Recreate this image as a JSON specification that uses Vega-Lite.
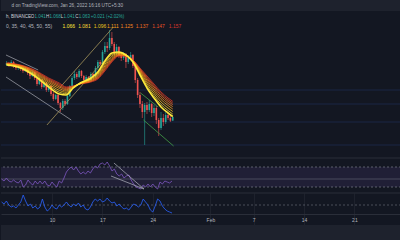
{
"$schema": "https://vega.github.io/schema/vega-lite/v6.json",
"background": "#131722",
"padding": 0,
"spacing": 0,
"config": {"view": {"stroke": null}, "concat": {"spacing": 0}},
"datasets": {
"bars": [
{"t":"2022-01-03T00:00:00","o":1.375,"h":1.399,"l":1.369,"c":1.387,"r":46,"v":24},
{"t":"2022-01-03T08:00:00","o":1.387,"h":1.393,"l":1.363,"c":1.375,"r":42,"v":20},
{"t":"2022-01-03T16:00:00","o":1.375,"h":1.405,"l":1.369,"c":1.393,"r":48,"v":26},
{"t":"2022-01-04T00:00:00","o":1.393,"h":1.399,"l":1.357,"c":1.369,"r":42,"v":18},
{"t":"2022-01-04T08:00:00","o":1.369,"h":1.381,"l":1.345,"c":1.357,"r":40,"v":14},
{"t":"2022-01-04T16:00:00","o":1.357,"h":1.375,"l":1.345,"c":1.369,"r":44,"v":16},
{"t":"2022-01-05T00:00:00","o":1.369,"h":1.375,"l":1.339,"c":1.351,"r":40,"v":12},
{"t":"2022-01-05T08:00:00","o":1.351,"h":1.363,"l":1.327,"c":1.339,"r":38,"v":18},
{"t":"2022-01-05T16:00:00","o":1.339,"h":1.363,"l":1.333,"c":1.357,"r":44,"v":24},
{"t":"2022-01-06T00:00:00","o":1.357,"h":1.363,"l":1.315,"c":1.327,"r":30,"v":38},
{"t":"2022-01-06T08:00:00","o":1.327,"h":1.333,"l":1.291,"c":1.309,"r":34,"v":26},
{"t":"2022-01-06T16:00:00","o":1.309,"h":1.345,"l":1.303,"c":1.333,"r":44,"v":16},
{"t":"2022-01-07T00:00:00","o":1.333,"h":1.339,"l":1.285,"c":1.297,"r":38,"v":20},
{"t":"2022-01-07T08:00:00","o":1.297,"h":1.303,"l":1.249,"c":1.261,"r":34,"v":12},
{"t":"2022-01-07T16:00:00","o":1.261,"h":1.297,"l":1.255,"c":1.285,"r":42,"v":16},
{"t":"2022-01-08T00:00:00","o":1.285,"h":1.291,"l":1.231,"c":1.243,"r":36,"v":10},
{"t":"2022-01-08T08:00:00","o":1.243,"h":1.273,"l":1.237,"c":1.267,"r":42,"v":14},
{"t":"2022-01-08T16:00:00","o":1.267,"h":1.273,"l":1.213,"c":1.225,"r":36,"v":30},
{"t":"2022-01-09T00:00:00","o":1.225,"h":1.255,"l":1.213,"c":1.249,"r":42,"v":14},
{"t":"2022-01-09T08:00:00","o":1.249,"h":1.255,"l":1.189,"c":1.201,"r":34,"v":6},
{"t":"2022-01-09T16:00:00","o":1.201,"h":1.213,"l":1.159,"c":1.171,"r":32,"v":10},
{"t":"2022-01-10T00:00:00","o":1.171,"h":1.201,"l":1.165,"c":1.195,"r":40,"v":18},
{"t":"2022-01-10T08:00:00","o":1.195,"h":1.201,"l":1.135,"c":1.147,"r":34,"v":12},
{"t":"2022-01-10T16:00:00","o":1.147,"h":1.153,"l":1.093,"c":1.117,"r":30,"v":10},
{"t":"2022-01-11T00:00:00","o":1.117,"h":1.171,"l":1.105,"c":1.159,"r":42,"v":18},
{"t":"2022-01-11T08:00:00","o":1.159,"h":1.171,"l":1.129,"c":1.141,"r":38,"v":14},
{"t":"2022-01-11T16:00:00","o":1.141,"h":1.195,"l":1.135,"c":1.189,"r":48,"v":18},
{"t":"2022-01-12T00:00:00","o":1.189,"h":1.255,"l":1.183,"c":1.249,"r":60,"v":24},
{"t":"2022-01-12T08:00:00","o":1.249,"h":1.309,"l":1.237,"c":1.297,"r":66,"v":18},
{"t":"2022-01-12T16:00:00","o":1.297,"h":1.339,"l":1.285,"c":1.321,"r":70,"v":14},
{"t":"2022-01-13T00:00:00","o":1.321,"h":1.333,"l":1.291,"c":1.303,"r":64,"v":20},
{"t":"2022-01-13T08:00:00","o":1.303,"h":1.351,"l":1.297,"c":1.339,"r":70,"v":16},
{"t":"2022-01-13T16:00:00","o":1.339,"h":1.345,"l":1.297,"c":1.309,"r":62,"v":22},
{"t":"2022-01-14T00:00:00","o":1.309,"h":1.315,"l":1.267,"c":1.285,"r":56,"v":14},
{"t":"2022-01-14T08:00:00","o":1.285,"h":1.315,"l":1.273,"c":1.303,"r":60,"v":18},
{"t":"2022-01-14T16:00:00","o":1.303,"h":1.309,"l":1.267,"c":1.285,"r":56,"v":10},
{"t":"2022-01-15T00:00:00","o":1.285,"h":1.333,"l":1.273,"c":1.321,"r":62,"v":8},
{"t":"2022-01-15T08:00:00","o":1.321,"h":1.327,"l":1.297,"c":1.309,"r":58,"v":14},
{"t":"2022-01-15T16:00:00","o":1.309,"h":1.369,"l":1.303,"c":1.357,"r":66,"v":24},
{"t":"2022-01-16T00:00:00","o":1.357,"h":1.405,"l":1.345,"c":1.393,"r":72,"v":30},
{"t":"2022-01-16T08:00:00","o":1.393,"h":1.405,"l":1.363,"c":1.381,"r":68,"v":26},
{"t":"2022-01-16T16:00:00","o":1.381,"h":1.465,"l":1.375,"c":1.453,"r":76,"v":30},
{"t":"2022-01-17T00:00:00","o":1.453,"h":1.513,"l":1.441,"c":1.489,"r":78,"v":24},
{"t":"2022-01-17T08:00:00","o":1.489,"h":1.513,"l":1.453,"c":1.477,"r":74,"v":26},
{"t":"2022-01-17T16:00:00","o":1.477,"h":1.585,"l":1.465,"c":1.537,"r":80,"v":32},
{"t":"2022-01-18T00:00:00","o":1.537,"h":1.573,"l":1.489,"c":1.501,"r":72,"v":26},
{"t":"2022-01-18T08:00:00","o":1.501,"h":1.513,"l":1.435,"c":1.453,"r":62,"v":22},
{"t":"2022-01-18T16:00:00","o":1.453,"h":1.501,"l":1.441,"c":1.483,"r":66,"v":24},
{"t":"2022-01-19T00:00:00","o":1.483,"h":1.489,"l":1.417,"c":1.435,"r":56,"v":16},
{"t":"2022-01-19T08:00:00","o":1.435,"h":1.453,"l":1.399,"c":1.417,"r":52,"v":20},
{"t":"2022-01-19T16:00:00","o":1.417,"h":1.453,"l":1.405,"c":1.441,"r":56,"v":14},
{"t":"2022-01-20T00:00:00","o":1.441,"h":1.447,"l":1.357,"c":1.393,"r":48,"v":10},
{"t":"2022-01-20T08:00:00","o":1.393,"h":1.435,"l":1.381,"c":1.417,"r":52,"v":12},
{"t":"2022-01-20T16:00:00","o":1.417,"h":1.453,"l":1.405,"c":1.435,"r":54,"v":8},
{"t":"2022-01-21T00:00:00","o":1.435,"h":1.441,"l":1.357,"c":1.369,"r":44,"v":14},
{"t":"2022-01-21T08:00:00","o":1.369,"h":1.375,"l":1.267,"c":1.285,"r":36,"v":20},
{"t":"2022-01-21T16:00:00","o":1.285,"h":1.297,"l":1.177,"c":1.195,"r":30,"v":18},
{"t":"2022-01-22T00:00:00","o":1.195,"h":1.213,"l":1.117,"c":1.141,"r":28,"v":14},
{"t":"2022-01-22T08:00:00","o":1.141,"h":1.159,"l":1.057,"c":1.093,"r":26,"v":18},
{"t":"2022-01-22T16:00:00","o":1.093,"h":1.147,"l":0.895,"c":1.135,"r":34,"v":30},
{"t":"2022-01-23T00:00:00","o":1.135,"h":1.153,"l":1.081,"c":1.105,"r":30,"v":24},
{"t":"2022-01-23T08:00:00","o":1.105,"h":1.165,"l":1.093,"c":1.141,"r":36,"v":18},
{"t":"2022-01-23T16:00:00","o":1.141,"h":1.147,"l":1.063,"c":1.087,"r":30,"v":8},
{"t":"2022-01-24T00:00:00","o":1.087,"h":1.135,"l":1.069,"c":1.117,"r":36,"v":4},
{"t":"2022-01-24T08:00:00","o":1.117,"h":1.129,"l":1.021,"c":1.045,"r":30,"v":16},
{"t":"2022-01-24T16:00:00","o":1.045,"h":1.057,"l":0.949,"c":0.997,"r":26,"v":30},
{"t":"2022-01-25T00:00:00","o":0.997,"h":1.093,"l":0.985,"c":1.057,"r":40,"v":26},
{"t":"2022-01-25T08:00:00","o":1.057,"h":1.081,"l":1.009,"c":1.033,"r":36,"v":16},
{"t":"2022-01-25T16:00:00","o":1.033,"h":1.093,"l":1.021,"c":1.075,"r":42,"v":10},
{"t":"2022-01-26T00:00:00","o":1.075,"h":1.087,"l":1.045,"c":1.057,"r":40,"v":6},
{"t":"2022-01-26T08:00:00","o":1.057,"h":1.069,"l":1.033,"c":1.041,"r":38,"v":4},
{"t":"2022-01-26T16:00:00","o":1.041,"h":1.068,"l":1.041,"c":1.063,"r":42,"v":2}
],
"ema": [
{"t":"2022-01-03T00:00:00","e20":1.375,"e25":1.377,"e30":1.379,"e35":1.381,"e40":1.383,"e45":1.384,"e50":1.386,"e55":1.387},
{"t":"2022-01-05T00:00:00","e20":1.357,"e25":1.360,"e30":1.363,"e35":1.366,"e40":1.369,"e45":1.371,"e50":1.373,"e55":1.375},
{"t":"2022-01-07T00:00:00","e20":1.309,"e25":1.315,"e30":1.321,"e35":1.327,"e40":1.332,"e45":1.337,"e50":1.341,"e55":1.345},
{"t":"2022-01-09T00:00:00","e20":1.243,"e25":1.252,"e30":1.261,"e35":1.270,"e40":1.278,"e45":1.285,"e50":1.291,"e55":1.297},
{"t":"2022-01-10T12:00:00","e20":1.201,"e25":1.212,"e30":1.223,"e35":1.234,"e40":1.244,"e45":1.252,"e50":1.260,"e55":1.267},
{"t":"2022-01-11T12:00:00","e20":1.195,"e25":1.203,"e30":1.211,"e35":1.219,"e40":1.226,"e45":1.232,"e50":1.238,"e55":1.243},
{"t":"2022-01-12T12:00:00","e20":1.237,"e25":1.239,"e30":1.241,"e35":1.243,"e40":1.245,"e45":1.246,"e50":1.248,"e55":1.249},
{"t":"2022-01-13T12:00:00","e20":1.267,"e25":1.266,"e30":1.265,"e35":1.264,"e40":1.263,"e45":1.262,"e50":1.262,"e55":1.261},
{"t":"2022-01-15T00:00:00","e20":1.297,"e25":1.293,"e30":1.289,"e35":1.285,"e40":1.281,"e45":1.278,"e50":1.276,"e55":1.273},
{"t":"2022-01-16T00:00:00","e20":1.333,"e25":1.326,"e30":1.319,"e35":1.312,"e40":1.306,"e45":1.300,"e50":1.296,"e55":1.291},
{"t":"2022-01-17T00:00:00","e20":1.399,"e25":1.389,"e30":1.379,"e35":1.369,"e40":1.360,"e45":1.352,"e50":1.346,"e55":1.339},
{"t":"2022-01-18T00:00:00","e20":1.447,"e25":1.438,"e30":1.429,"e35":1.420,"e40":1.412,"e45":1.405,"e50":1.399,"e55":1.393},
{"t":"2022-01-19T00:00:00","e20":1.453,"e25":1.449,"e30":1.445,"e35":1.441,"e40":1.437,"e45":1.434,"e50":1.432,"e55":1.429},
{"t":"2022-01-20T00:00:00","e20":1.435,"e25":1.434,"e30":1.433,"e35":1.432,"e40":1.431,"e45":1.430,"e50":1.430,"e55":1.429},
{"t":"2022-01-21T00:00:00","e20":1.393,"e25":1.395,"e30":1.397,"e35":1.399,"e40":1.401,"e45":1.402,"e50":1.404,"e55":1.405},
{"t":"2022-01-22T00:00:00","e20":1.315,"e25":1.322,"e30":1.329,"e35":1.336,"e40":1.342,"e45":1.348,"e50":1.352,"e55":1.357},
{"t":"2022-01-23T00:00:00","e20":1.237,"e25":1.249,"e30":1.261,"e35":1.273,"e40":1.284,"e45":1.293,"e50":1.301,"e55":1.309},
{"t":"2022-01-24T00:00:00","e20":1.177,"e25":1.191,"e30":1.205,"e35":1.219,"e40":1.231,"e45":1.243,"e50":1.252,"e55":1.261},
{"t":"2022-01-25T00:00:00","e20":1.123,"e25":1.138,"e30":1.153,"e35":1.168,"e40":1.181,"e45":1.193,"e50":1.203,"e55":1.213},
{"t":"2022-01-26T00:00:00","e20":1.087,"e25":1.102,"e30":1.117,"e35":1.132,"e40":1.145,"e45":1.157,"e50":1.167,"e55":1.177},
{"t":"2022-01-26T16:00:00","e20":1.066,"e25":1.081,"e30":1.096,"e35":1.111,"e40":1.125,"e45":1.137,"e50":1.147,"e55":1.157}
],
"trend": [
{"id":"g1","t":"2022-01-02T22:00:00","p":1.435},{"id":"g1","t":"2022-01-07T12:00:00","p":1.345},
{"id":"g2","t":"2022-01-02T22:00:00","p":1.303},{"id":"g2","t":"2022-01-12T05:00:00","p":1.045},
{"id":"k1","t":"2022-01-08T18:00:00","p":1.015},{"id":"k1","t":"2022-01-16T19:00:00","p":1.399},
{"id":"k2","t":"2022-01-10T13:00:00","p":1.237},{"id":"k2","t":"2022-01-18T05:00:00","p":1.603},
{"id":"n1","t":"2022-01-22T02:00:00","p":1.207},{"id":"n1","t":"2022-01-24T14:00:00","p":1.123},
{"id":"n2","t":"2022-01-22T12:00:00","p":1.045},{"id":"n2","t":"2022-01-26T19:00:00","p":0.889}
],
"levels": [{"p":1.225},{"p":1.141},{"p":1.033},{"p":0.895}],
"wedge": [
{"id":"w1","t":"2022-01-18T14:30:00","r":78},{"id":"w1","t":"2022-01-22T18:40:00","r":26},
{"id":"w2","t":"2022-01-18T04:40:00","r":52},{"id":"w2","t":"2022-01-22T18:40:00","r":26}
]
},
"vconcat": [
{
"width": 400, "height": 11,
"view": {"fill": "#1e222d", "stroke": null},
"data": {"values": [{}]},
"mark": {"type": "text", "align": "left", "baseline": "middle", "font": "Liberation Sans", "fontSize": 4.7, "color": "#b2b5be", "text": "d on TradingView.com, Jan 26, 2022 16:16 UTC+5:30"},
"encoding": {"x": {"datum": {"year": 2022, "month": 1, "date": 4, "hours": 9}, "type": "temporal", "scale": {"domain": [{"year":2022,"month":1,"date":2,"hours":22},{"year":2022,"month":2,"date":27,"hours":11,"minutes":20}], "nice": false}, "axis": null}}
},
{
"width": 400, "height": 146,
"resolve": {"scale": {"color": "independent"}},
"layer": [
{"data": {"name": "levels"}, "mark": {"type": "rule", "color": "#1a2745", "strokeWidth": 1},
 "encoding": {"y": {"field": "p", "type": "quantitative", "scale": {"domain": [0.823, 1.699], "nice": false, "zero": false}, "axis": null}}},
{"data": {"name": "bars"}, "mark": {"type": "rule", "strokeWidth": 0.6},
 "encoding": {
  "x": {"field": "t", "type": "temporal", "scale": {"domain": [{"year":2022,"month":1,"date":2,"hours":22},{"year":2022,"month":2,"date":27,"hours":11,"minutes":20}], "nice": false},
        "axis": {"values": [{"year":2022,"month":1,"date":10},{"year":2022,"month":1,"date":17},{"year":2022,"month":1,"date":24},{"year":2022,"month":2,"date":1},{"year":2022,"month":2,"date":7},{"year":2022,"month":2,"date":14},{"year":2022,"month":2,"date":21}], "grid": true, "gridColor": "#1e222d", "labels": false, "ticks": false, "domain": false, "title": null}},
  "y": {"field": "l", "type": "quantitative", "scale": {"domain": [0.823, 1.699], "nice": false, "zero": false}, "axis": null},
  "y2": {"field": "h"},
  "color": {"condition": {"test": "datum.c >= datum.o", "value": "#26a69a"}, "value": "#ef5350"}}},
{"data": {"name": "bars"}, "mark": {"type": "bar", "width": 1.6},
 "encoding": {
  "x": {"field": "t", "type": "temporal", "scale": {"domain": [{"year":2022,"month":1,"date":2,"hours":22},{"year":2022,"month":2,"date":27,"hours":11,"minutes":20}], "nice": false}, "axis": null},
  "y": {"field": "o", "type": "quantitative", "scale": {"domain": [0.823, 1.699], "nice": false, "zero": false}, "axis": null},
  "y2": {"field": "c"},
  "color": {"condition": {"test": "datum.c >= datum.o", "value": "#26a69a"}, "value": "#ef5350"}}},
{"data": {"name": "trend"}, "mark": {"type": "line", "strokeWidth": 0.8},
 "encoding": {
  "x": {"field": "t", "type": "temporal", "scale": {"domain": [{"year":2022,"month":1,"date":2,"hours":22},{"year":2022,"month":2,"date":27,"hours":11,"minutes":20}], "nice": false}, "axis": null},
  "y": {"field": "p", "type": "quantitative", "scale": {"domain": [0.823, 1.699], "nice": false, "zero": false}, "axis": null},
  "detail": {"field": "id"},
  "color": {"field": "id", "type": "nominal", "scale": {"domain": ["g1","g2","k1","k2","n1","n2"], "range": ["#9598a1","#9598a1","#a3935a","#a3935a","#43a047","#43a047"]}, "legend": null}}},
{"data": {"name": "ema"}, "transform": [{"fold": ["e55","e50","e45","e40","e35","e30","e25"], "as": ["k","v"]}],
 "mark": {"type": "line", "strokeWidth": 0.8, "interpolate": "monotone"},
 "encoding": {
  "x": {"field": "t", "type": "temporal", "scale": {"domain": [{"year":2022,"month":1,"date":2,"hours":22},{"year":2022,"month":2,"date":27,"hours":11,"minutes":20}], "nice": false}, "axis": null},
  "y": {"field": "v", "type": "quantitative", "scale": {"domain": [0.823, 1.699], "nice": false, "zero": false}, "axis": null},
  "color": {"field": "k", "type": "nominal", "scale": {"domain": ["e25","e30","e35","e40","e45","e50","e55"], "range": ["#fdd835","#f9c01e","#f7a21b","#f4861f","#ef6c1f","#e65124","#d8352a"]}, "legend": null}}},
{"data": {"name": "ema"}, "mark": {"type": "line", "strokeWidth": 1.6, "color": "#ffeb3b", "interpolate": "monotone"},
 "encoding": {
  "x": {"field": "t", "type": "temporal", "scale": {"domain": [{"year":2022,"month":1,"date":2,"hours":22},{"year":2022,"month":2,"date":27,"hours":11,"minutes":20}], "nice": false}, "axis": null},
  "y": {"field": "e20", "type": "quantitative", "scale": {"domain": [0.823, 1.699], "nice": false, "zero": false}, "axis": null}}},
{"data": {"values": [{}]},
 "encoding": {"y": {"datum": 1.666, "type": "quantitative", "scale": {"domain": [0.823, 1.699], "nice": false, "zero": false}, "axis": null}},
 "layer": [
  {"mark": {"type": "text", "align": "left", "baseline": "middle", "font": "Liberation Sans", "fontSize": 4.5, "color": "#d1d4dc", "text": "h, BINANCE"},
   "encoding": {"x": {"datum": {"year":2022,"month":1,"date":2,"hours":22}, "type": "temporal", "scale": {"domain": [{"year":2022,"month":1,"date":2,"hours":22},{"year":2022,"month":2,"date":27,"hours":11,"minutes":20}], "nice": false}, "axis": null}}},
  {"mark": {"type": "text", "align": "left", "baseline": "middle", "font": "Liberation Sans", "fontSize": 4.5, "color": "#d1d4dc", "text": "O"},
   "encoding": {"x": {"datum": {"year":2022,"month":1,"date":6,"hours":11}, "type": "temporal", "scale": {"domain": [{"year":2022,"month":1,"date":2,"hours":22},{"year":2022,"month":2,"date":27,"hours":11,"minutes":20}], "nice": false}, "axis": null}}},
  {"mark": {"type": "text", "align": "left", "baseline": "middle", "font": "Liberation Sans", "fontSize": 4.5, "color": "#26a69a", "text": "1.041"},
   "encoding": {"x": {"datum": {"year":2022,"month":1,"date":6,"hours":23,"minutes":40}, "type": "temporal", "scale": {"domain": [{"year":2022,"month":1,"date":2,"hours":22},{"year":2022,"month":2,"date":27,"hours":11,"minutes":20}], "nice": false}, "axis": null}}},
  {"mark": {"type": "text", "align": "left", "baseline": "middle", "font": "Liberation Sans", "fontSize": 4.5, "color": "#d1d4dc", "text": "H"},
   "encoding": {"x": {"datum": {"year":2022,"month":1,"date":8,"hours":14,"minutes":40}, "type": "temporal", "scale": {"domain": [{"year":2022,"month":1,"date":2,"hours":22},{"year":2022,"month":2,"date":27,"hours":11,"minutes":20}], "nice": false}, "axis": null}}},
  {"mark": {"type": "text", "align": "left", "baseline": "middle", "font": "Liberation Sans", "fontSize": 4.5, "color": "#26a69a", "text": "1.068"},
   "encoding": {"x": {"datum": {"year":2022,"month":1,"date":9,"hours":2,"minutes":20}, "type": "temporal", "scale": {"domain": [{"year":2022,"month":1,"date":2,"hours":22},{"year":2022,"month":2,"date":27,"hours":11,"minutes":20}], "nice": false}, "axis": null}}},
  {"mark": {"type": "text", "align": "left", "baseline": "middle", "font": "Liberation Sans", "fontSize": 4.5, "color": "#d1d4dc", "text": "L"},
   "encoding": {"x": {"datum": {"year":2022,"month":1,"date":10,"hours":17,"minutes":20}, "type": "temporal", "scale": {"domain": [{"year":2022,"month":1,"date":2,"hours":22},{"year":2022,"month":2,"date":27,"hours":11,"minutes":20}], "nice": false}, "axis": null}}},
  {"mark": {"type": "text", "align": "left", "baseline": "middle", "font": "Liberation Sans", "fontSize": 4.5, "color": "#26a69a", "text": "1.041"},
   "encoding": {"x": {"datum": {"year":2022,"month":1,"date":11,"hours":2,"minutes":40}, "type": "temporal", "scale": {"domain": [{"year":2022,"month":1,"date":2,"hours":22},{"year":2022,"month":2,"date":27,"hours":11,"minutes":20}], "nice": false}, "axis": null}}},
  {"mark": {"type": "text", "align": "left", "baseline": "middle", "font": "Liberation Sans", "fontSize": 4.5, "color": "#d1d4dc", "text": "C"},
   "encoding": {"x": {"datum": {"year":2022,"month":1,"date":12,"hours":18,"minutes":40}, "type": "temporal", "scale": {"domain": [{"year":2022,"month":1,"date":2,"hours":22},{"year":2022,"month":2,"date":27,"hours":11,"minutes":20}], "nice": false}, "axis": null}}},
  {"mark": {"type": "text", "align": "left", "baseline": "middle", "font": "Liberation Sans", "fontSize": 4.5, "color": "#26a69a", "text": "1.063"},
   "encoding": {"x": {"datum": {"year":2022,"month":1,"date":13,"hours":7}, "type": "temporal", "scale": {"domain": [{"year":2022,"month":1,"date":2,"hours":22},{"year":2022,"month":2,"date":27,"hours":11,"minutes":20}], "nice": false}, "axis": null}}},
  {"mark": {"type": "text", "align": "left", "baseline": "middle", "font": "Liberation Sans", "fontSize": 4.5, "color": "#26a69a", "text": "+0.021 (+2.02%)"},
   "encoding": {"x": {"datum": {"year":2022,"month":1,"date":15,"hours":0}, "type": "temporal", "scale": {"domain": [{"year":2022,"month":1,"date":2,"hours":22},{"year":2022,"month":2,"date":27,"hours":11,"minutes":20}], "nice": false}, "axis": null}}}
 ]},
{"data": {"values": [{}]},
 "encoding": {"y": {"datum": 1.612, "type": "quantitative", "scale": {"domain": [0.823, 1.699], "nice": false, "zero": false}, "axis": null}},
 "layer": [
  {"mark": {"type": "text", "align": "left", "baseline": "middle", "font": "Liberation Sans", "fontSize": 5, "color": "#b2b5be", "text": "0, 35, 40, 45, 50, 55)"},
   "encoding": {"x": {"datum": {"year":2022,"month":1,"date":2,"hours":22}, "type": "temporal", "scale": {"domain": [{"year":2022,"month":1,"date":2,"hours":22},{"year":2022,"month":2,"date":27,"hours":11,"minutes":20}], "nice": false}, "axis": null}}},
  {"mark": {"type": "text", "align": "left", "baseline": "middle", "font": "Liberation Sans", "fontSize": 5, "color": "#ffeb3b", "text": "1.066"},
   "encoding": {"x": {"datum": {"year":2022,"month":1,"date":10,"hours":23,"minutes":20}, "type": "temporal", "scale": {"domain": [{"year":2022,"month":1,"date":2,"hours":22},{"year":2022,"month":2,"date":27,"hours":11,"minutes":20}], "nice": false}, "axis": null}}},
  {"mark": {"type": "text", "align": "left", "baseline": "middle", "font": "Liberation Sans", "fontSize": 5, "color": "#fdd835", "text": "1.081"},
   "encoding": {"x": {"datum": {"year":2022,"month":1,"date":13,"hours":4,"minutes":40}, "type": "temporal", "scale": {"domain": [{"year":2022,"month":1,"date":2,"hours":22},{"year":2022,"month":2,"date":27,"hours":11,"minutes":20}], "nice": false}, "axis": null}}},
  {"mark": {"type": "text", "align": "left", "baseline": "middle", "font": "Liberation Sans", "fontSize": 5, "color": "#e8c61a", "text": "1.096"},
   "encoding": {"x": {"datum": {"year":2022,"month":1,"date":15,"hours":10}, "type": "temporal", "scale": {"domain": [{"year":2022,"month":1,"date":2,"hours":22},{"year":2022,"month":2,"date":27,"hours":11,"minutes":20}], "nice": false}, "axis": null}}},
  {"mark": {"type": "text", "align": "left", "baseline": "middle", "font": "Liberation Sans", "fontSize": 5, "color": "#f7a21b", "text": "1.111"},
   "encoding": {"x": {"datum": {"year":2022,"month":1,"date":17,"hours":7}, "type": "temporal", "scale": {"domain": [{"year":2022,"month":1,"date":2,"hours":22},{"year":2022,"month":2,"date":27,"hours":11,"minutes":20}], "nice": false}, "axis": null}}},
  {"mark": {"type": "text", "align": "left", "baseline": "middle", "font": "Liberation Sans", "fontSize": 5, "color": "#f4861f", "text": "1.125"},
   "encoding": {"x": {"datum": {"year":2022,"month":1,"date":19,"hours":5,"minutes":40}, "type": "temporal", "scale": {"domain": [{"year":2022,"month":1,"date":2,"hours":22},{"year":2022,"month":2,"date":27,"hours":11,"minutes":20}], "nice": false}, "axis": null}}},
  {"mark": {"type": "text", "align": "left", "baseline": "middle", "font": "Liberation Sans", "fontSize": 5, "color": "#ef6c1f", "text": "1.137"},
   "encoding": {"x": {"datum": {"year":2022,"month":1,"date":21,"hours":9,"minutes":20}, "type": "temporal", "scale": {"domain": [{"year":2022,"month":1,"date":2,"hours":22},{"year":2022,"month":2,"date":27,"hours":11,"minutes":20}], "nice": false}, "axis": null}}},
  {"mark": {"type": "text", "align": "left", "baseline": "middle", "font": "Liberation Sans", "fontSize": 5, "color": "#e65124", "text": "1.147"},
   "encoding": {"x": {"datum": {"year":2022,"month":1,"date":23,"hours":18}, "type": "temporal", "scale": {"domain": [{"year":2022,"month":1,"date":2,"hours":22},{"year":2022,"month":2,"date":27,"hours":11,"minutes":20}], "nice": false}, "axis": null}}},
  {"mark": {"type": "text", "align": "left", "baseline": "middle", "font": "Liberation Sans", "fontSize": 5, "color": "#d8352a", "text": "1.157"},
   "encoding": {"x": {"datum": {"year":2022,"month":1,"date":26,"hours":2,"minutes":40}, "type": "temporal", "scale": {"domain": [{"year":2022,"month":1,"date":2,"hours":22},{"year":2022,"month":2,"date":27,"hours":11,"minutes":20}], "nice": false}, "axis": null}}}
 ]}
]
},
{
"width": 400, "height": 34,
"layer": [
{"data": {"values": [{}]}, "mark": {"type": "rect", "color": "#7e57c2", "opacity": 0.13},
 "encoding": {"y": {"datum": 70, "type": "quantitative", "scale": {"domain": [20, 88], "nice": false, "zero": false}, "axis": null}, "y2": {"datum": 30}}},
{"data": {"values": [{"r": 70}, {"r": 30}]}, "mark": {"type": "rule", "color": "#787b86", "strokeDash": [2, 2], "strokeWidth": 0.7},
 "encoding": {"y": {"field": "r", "type": "quantitative", "scale": {"domain": [20, 88], "nice": false, "zero": false}, "axis": null}}},
{"data": {"values": [{"r": 46}]}, "mark": {"type": "rule", "color": "#787b86", "strokeWidth": 0.8, "opacity": 0.6},
 "encoding": {"y": {"field": "r", "type": "quantitative", "scale": {"domain": [20, 88], "nice": false, "zero": false}, "axis": null}}},
{"data": {"values": [{"r": 88}]}, "mark": {"type": "rule", "color": "#2a2e39", "strokeWidth": 1},
 "encoding": {"y": {"field": "r", "type": "quantitative", "scale": {"domain": [20, 88], "nice": false, "zero": false}, "axis": null}}},
{"data": {"name": "bars"}, "mark": {"type": "line", "color": "#7e57c2", "strokeWidth": 0.8},
 "encoding": {
  "x": {"field": "t", "type": "temporal", "scale": {"domain": [{"year":2022,"month":1,"date":2,"hours":22},{"year":2022,"month":2,"date":27,"hours":11,"minutes":20}], "nice": false},
        "axis": {"values": [{"year":2022,"month":1,"date":10},{"year":2022,"month":1,"date":17},{"year":2022,"month":1,"date":24},{"year":2022,"month":2,"date":1},{"year":2022,"month":2,"date":7},{"year":2022,"month":2,"date":14},{"year":2022,"month":2,"date":21}], "grid": true, "gridColor": "#1e222d", "labels": false, "ticks": false, "domain": false, "title": null}},
  "y": {"field": "r", "type": "quantitative", "scale": {"domain": [20, 88], "nice": false, "zero": false}, "axis": null}}},
{"data": {"name": "wedge"}, "mark": {"type": "line", "color": "#b2b5be", "strokeWidth": 0.7},
 "encoding": {
  "x": {"field": "t", "type": "temporal", "scale": {"domain": [{"year":2022,"month":1,"date":2,"hours":22},{"year":2022,"month":2,"date":27,"hours":11,"minutes":20}], "nice": false}, "axis": null},
  "y": {"field": "r", "type": "quantitative", "scale": {"domain": [20, 88], "nice": false, "zero": false}, "axis": null},
  "detail": {"field": "id"}}}
]
},
{
"width": 400, "height": 32,
"layer": [
{"data": {"values": [{"v": 18}]}, "mark": {"type": "rule", "color": "#787b86", "strokeDash": [2, 2], "strokeWidth": 0.7, "opacity": 0.8},
 "encoding": {"y": {"field": "v", "type": "quantitative", "scale": {"domain": [-22, 42], "nice": false, "zero": false}, "axis": null}}},
{"data": {"values": [{"v": 42}]}, "mark": {"type": "rule", "color": "#2a2e39", "strokeWidth": 1},
 "encoding": {"y": {"field": "v", "type": "quantitative", "scale": {"domain": [-22, 42], "nice": false, "zero": false}, "axis": null}}},
{"data": {"name": "bars"}, "mark": {"type": "line", "color": "#2962ff", "strokeWidth": 0.8},
 "encoding": {
  "x": {"field": "t", "type": "temporal", "scale": {"domain": [{"year":2022,"month":1,"date":2,"hours":22},{"year":2022,"month":2,"date":27,"hours":11,"minutes":20}], "nice": false},
        "axis": {"values": [{"year":2022,"month":1,"date":10},{"year":2022,"month":1,"date":17},{"year":2022,"month":1,"date":24},{"year":2022,"month":2,"date":1},{"year":2022,"month":2,"date":7},{"year":2022,"month":2,"date":14},{"year":2022,"month":2,"date":21}],
                 "labelExpr": "date(datum.value) == 1 ? 'Feb' : '' + date(datum.value)",
                 "grid": true, "gridColor": "#1e222d", "labels": true, "labelFont": "Liberation Sans", "labelFontSize": 5, "labelColor": "#b2b5be", "labelPadding": 3.5, "labelFlush": false, "labelOverlap": false,
                 "ticks": false, "domain": true, "domainColor": "#2a2e39", "offset": -11, "title": null}},
  "y": {"field": "v", "type": "quantitative", "scale": {"domain": [-22, 42], "nice": false, "zero": false}, "axis": null}}}
]
},
{
"width": 400, "height": 17,
"view": {"fill": "#1e222d", "stroke": null},
"data": {"values": []},
"mark": {"type": "rule"},
"encoding": {}
}
]
}
